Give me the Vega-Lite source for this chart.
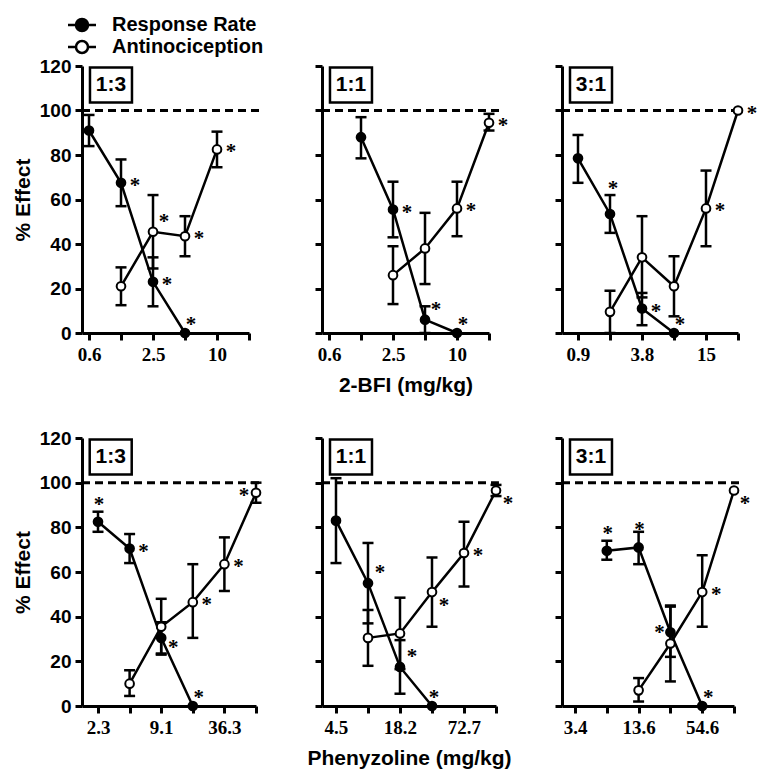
{
"$schema": "https://vega.github.io/schema/vega-lite/v6.json",
"background": "white",
"padding": {"left": 12, "top": 15, "right": 5, "bottom": 5},
"bounds": "flush",
"columns": 3,
"spacing": {"row": 105, "column": 66},
"datasets": {
"panelinfo": [
{"panel": "TL", "ratio": "1:3"}, {"panel": "TM", "ratio": "1:1"}, {"panel": "TR", "ratio": "3:1"},
{"panel": "BL", "ratio": "1:3"}, {"panel": "BM", "ratio": "1:1"}, {"panel": "BR", "ratio": "3:1"}
],
"doses": [
{"panel": "TL", "series": "Response Rate", "dose": 0.625, "mean": 91, "lo": 84, "hi": 98, "sig": null},
{"panel": "TL", "series": "Response Rate", "dose": 1.25, "mean": 67.5, "lo": 57, "hi": 78, "sig": "right"},
{"panel": "TL", "series": "Response Rate", "dose": 2.5, "mean": 23, "lo": 12, "hi": 34, "sig": "right"},
{"panel": "TL", "series": "Response Rate", "dose": 5, "mean": 0, "lo": null, "hi": null, "sig": "zero"},
{"panel": "TL", "series": "Antinociception", "dose": 1.25, "mean": 21, "lo": 12.5, "hi": 29.5, "sig": null},
{"panel": "TL", "series": "Antinociception", "dose": 2.5, "mean": 45.5, "lo": 29, "hi": 62, "sig": "upright"},
{"panel": "TL", "series": "Antinociception", "dose": 5, "mean": 43.5, "lo": 34.5, "hi": 52.5, "sig": "right"},
{"panel": "TL", "series": "Antinociception", "dose": 10, "mean": 82.5, "lo": 74.5, "hi": 90.5, "sig": "right"},
{"panel": "TM", "series": "Response Rate", "dose": 1.25, "mean": 88, "lo": 78.5, "hi": 97, "sig": null},
{"panel": "TM", "series": "Response Rate", "dose": 2.5, "mean": 55.5, "lo": 43, "hi": 68, "sig": "right"},
{"panel": "TM", "series": "Response Rate", "dose": 5, "mean": 6, "lo": 0, "hi": 12, "sig": "upright"},
{"panel": "TM", "series": "Response Rate", "dose": 10, "mean": 0, "lo": null, "hi": null, "sig": "zero"},
{"panel": "TM", "series": "Antinociception", "dose": 2.5, "mean": 26, "lo": 13, "hi": 39, "sig": null},
{"panel": "TM", "series": "Antinociception", "dose": 5, "mean": 38, "lo": 22, "hi": 54, "sig": null},
{"panel": "TM", "series": "Antinociception", "dose": 10, "mean": 56, "lo": 43.5, "hi": 68, "sig": "right"},
{"panel": "TM", "series": "Antinociception", "dose": 20, "mean": 94.5, "lo": 91, "hi": 98.5, "sig": "right"},
{"panel": "TR", "series": "Response Rate", "dose": 0.9375, "mean": 78.5, "lo": 67.5, "hi": 89, "sig": null},
{"panel": "TR", "series": "Response Rate", "dose": 1.875, "mean": 53.5, "lo": 45, "hi": 62, "sig": "top"},
{"panel": "TR", "series": "Response Rate", "dose": 3.75, "mean": 11, "lo": 3.5, "hi": 18, "sig": "right"},
{"panel": "TR", "series": "Response Rate", "dose": 7.5, "mean": 0, "lo": null, "hi": null, "sig": "zero"},
{"panel": "TR", "series": "Antinociception", "dose": 1.875, "mean": 9.5, "lo": 0, "hi": 19, "sig": null},
{"panel": "TR", "series": "Antinociception", "dose": 3.75, "mean": 34, "lo": 16, "hi": 52.5, "sig": null},
{"panel": "TR", "series": "Antinociception", "dose": 7.5, "mean": 21, "lo": 7.5, "hi": 34.5, "sig": null},
{"panel": "TR", "series": "Antinociception", "dose": 15, "mean": 56, "lo": 39, "hi": 73, "sig": "right"},
{"panel": "TR", "series": "Antinociception", "dose": 30, "mean": 100, "lo": null, "hi": null, "sig": "right"},
{"panel": "BL", "series": "Response Rate", "dose": 2.27, "mean": 82.5, "lo": 78, "hi": 87, "sig": "above"},
{"panel": "BL", "series": "Response Rate", "dose": 4.54, "mean": 70.5, "lo": 64, "hi": 77, "sig": "right"},
{"panel": "BL", "series": "Response Rate", "dose": 9.08, "mean": 30.5, "lo": 23.5, "hi": 37.5, "sig": "downright"},
{"panel": "BL", "series": "Response Rate", "dose": 18.16, "mean": 0, "lo": null, "hi": null, "sig": "zero"},
{"panel": "BL", "series": "Antinociception", "dose": 4.54, "mean": 10, "lo": 4.5, "hi": 16, "sig": null},
{"panel": "BL", "series": "Antinociception", "dose": 9.08, "mean": 35.5, "lo": 23, "hi": 48, "sig": null},
{"panel": "BL", "series": "Antinociception", "dose": 18.16, "mean": 46.5, "lo": 30.5, "hi": 63.5, "sig": "right"},
{"panel": "BL", "series": "Antinociception", "dose": 36.32, "mean": 63.5, "lo": 51.5, "hi": 75.5, "sig": "right"},
{"panel": "BL", "series": "Antinociception", "dose": 72.64, "mean": 95.5, "lo": 91, "hi": 100, "sig": "left"},
{"panel": "BM", "series": "Response Rate", "dose": 4.545, "mean": 83, "lo": 64, "hi": 102, "sig": null},
{"panel": "BM", "series": "Response Rate", "dose": 9.09, "mean": 55, "lo": 37, "hi": 73, "sig": "upright"},
{"panel": "BM", "series": "Response Rate", "dose": 18.18, "mean": 17.5, "lo": 5.5, "hi": 29.5, "sig": "upright"},
{"panel": "BM", "series": "Response Rate", "dose": 36.36, "mean": 0, "lo": null, "hi": null, "sig": "zero"},
{"panel": "BM", "series": "Antinociception", "dose": 9.09, "mean": 30.5, "lo": 18, "hi": 43, "sig": null},
{"panel": "BM", "series": "Antinociception", "dose": 18.18, "mean": 32.5, "lo": 16.5, "hi": 48.5, "sig": null},
{"panel": "BM", "series": "Antinociception", "dose": 36.36, "mean": 51, "lo": 35.5, "hi": 66.5, "sig": "downright"},
{"panel": "BM", "series": "Antinociception", "dose": 72.72, "mean": 68.5, "lo": 53.5, "hi": 82.5, "sig": "right"},
{"panel": "BM", "series": "Antinociception", "dose": 145.44, "mean": 96.5, "lo": 94, "hi": 99, "sig": "downright"},
{"panel": "BR", "series": "Response Rate", "dose": 6.82, "mean": 69.5, "lo": 65.5, "hi": 74, "sig": "above"},
{"panel": "BR", "series": "Response Rate", "dose": 13.64, "mean": 71, "lo": 63.5, "hi": 78, "sig": "above"},
{"panel": "BR", "series": "Response Rate", "dose": 27.28, "mean": 33, "lo": 22, "hi": 44.5, "sig": "left"},
{"panel": "BR", "series": "Response Rate", "dose": 54.56, "mean": 0, "lo": null, "hi": null, "sig": "zero"},
{"panel": "BR", "series": "Antinociception", "dose": 13.64, "mean": 7, "lo": 2, "hi": 12.5, "sig": null},
{"panel": "BR", "series": "Antinociception", "dose": 27.28, "mean": 28, "lo": 11, "hi": 45, "sig": null},
{"panel": "BR", "series": "Antinociception", "dose": 54.56, "mean": 51, "lo": 35.5, "hi": 67.5, "sig": "right"},
{"panel": "BR", "series": "Antinociception", "dose": 109.12, "mean": 96.5, "lo": null, "hi": null, "sig": "downright"}
]
},
"concat": [
{"width": 167, "height": 267, "data": {"name": "doses"}, "transform": [{"filter": "datum.panel==='TL'"}, {"lookup": "panel", "from": {"data": {"name": "panelinfo"}, "key": "panel", "fields": ["ratio"]}}],
 "layer": [
  {"transform": [{"aggregate": [{"op": "count", "as": "n"}], "groupby": ["ratio"]}], "mark": {"type": "rule", "strokeDash": [8, 5], "strokeWidth": 3, "color": "black"}, "encoding": {
    "x": {"datum": 0.537, "type": "quantitative", "scale": {"type": "log", "domain": [0.537, 20], "nice": false}, "axis": {"values": [0.625, 1.25, 2.5, 5, 10, 20], "labelExpr": "datum.value==0.625?'0.6':datum.value==2.5?'2.5':datum.value==10?'10':''", "title": null}},
    "x2": {"datum": 25.9},
    "y": {"datum": 100, "type": "quantitative", "scale": {"domain": [0, 120], "nice": false}, "axis": {"values": [0, 20, 40, 60, 80, 100, 120], "title": "% Effect"}}}},
  {"mark": {"type": "rule", "strokeWidth": 2.5, "color": "black"}, "encoding": {"x": {"field": "dose", "type": "quantitative"}, "y": {"field": "lo", "type": "quantitative"}, "y2": {"field": "hi"}}},
  {"mark": {"type": "tick", "orient": "horizontal", "size": 11, "thickness": 2.5, "color": "black", "opacity": 1}, "encoding": {"x": {"field": "dose", "type": "quantitative"}, "y": {"field": "lo", "type": "quantitative"}}},
  {"mark": {"type": "tick", "orient": "horizontal", "size": 11, "thickness": 2.5, "color": "black", "opacity": 1}, "encoding": {"x": {"field": "dose", "type": "quantitative"}, "y": {"field": "hi", "type": "quantitative"}}},
  {"mark": {"type": "line", "color": "black", "strokeWidth": 2.5}, "encoding": {"x": {"field": "dose", "type": "quantitative"}, "y": {"field": "mean", "type": "quantitative"}, "detail": {"field": "series"}}},
  {"mark": {"type": "circle", "size": 75, "stroke": "black", "strokeWidth": 2, "opacity": 1}, "encoding": {"x": {"field": "dose", "type": "quantitative"}, "y": {"field": "mean", "type": "quantitative"}, "fill": {"field": "series", "type": "nominal", "scale": {"domain": ["Response Rate", "Antinociception"], "range": ["black", "white"]}, "legend": {"orient": "none", "legendX": -10, "legendY": -51, "title": null, "symbolType": "M-1.75,0H-0.75M0.75,0H1.75M0.75,0A0.75,0.75,0,1,1,-0.75,0A0.75,0.75,0,1,1,0.75,0Z", "symbolSize": 256, "symbolStrokeColor": "black", "symbolStrokeWidth": 2.5, "symbolOpacity": 1, "labelFont": "Liberation Sans", "labelFontWeight": "bold", "labelFontSize": 20, "labelColor": "black", "labelOffset": 20, "rowPadding": 0}}}},
  {"transform": [{"filter": "datum.sig==='right'"}], "mark": {"type": "text", "text": "*", "font": "Liberation Serif", "fontWeight": "bold", "fontSize": 21, "baseline": "alphabetic", "dx": 14, "dy": 9, "color": "black"}, "encoding": {"x": {"field": "dose", "type": "quantitative"}, "y": {"field": "mean", "type": "quantitative"}}},
  {"transform": [{"filter": "datum.sig==='upright'"}], "mark": {"type": "text", "text": "*", "font": "Liberation Serif", "fontWeight": "bold", "fontSize": 21, "baseline": "alphabetic", "dx": 11, "dy": -4, "color": "black"}, "encoding": {"x": {"field": "dose", "type": "quantitative"}, "y": {"field": "mean", "type": "quantitative"}}},
  {"transform": [{"filter": "datum.sig==='zero'"}], "mark": {"type": "text", "text": "*", "font": "Liberation Serif", "fontWeight": "bold", "fontSize": 21, "baseline": "alphabetic", "dx": 6, "dy": -2, "color": "black"}, "encoding": {"x": {"field": "dose", "type": "quantitative"}, "y": {"field": "mean", "type": "quantitative"}}},
  {"transform": [{"aggregate": [{"op": "count", "as": "n"}], "groupby": ["ratio"]}], "mark": {"type": "point", "shape": "M-1,-0.833H1V0.833H-1Z", "size": 1764, "filled": true, "fill": "white", "stroke": "black", "strokeWidth": 2.5, "opacity": 1}, "encoding": {"x": {"datum": 1.006, "type": "quantitative"}, "y": {"datum": 111.5, "type": "quantitative"}}},
  {"transform": [{"aggregate": [{"op": "count", "as": "n"}], "groupby": ["ratio"]}], "mark": {"type": "text", "font": "Liberation Sans", "fontWeight": "bold", "fontSize": 21, "baseline": "middle", "color": "black"}, "encoding": {"x": {"datum": 1.006, "type": "quantitative"}, "y": {"datum": 111.5, "type": "quantitative"}, "text": {"field": "ratio"}}}
 ]},
{"width": 167, "height": 267, "data": {"name": "doses"}, "transform": [{"filter": "datum.panel==='TM'"}, {"lookup": "panel", "from": {"data": {"name": "panelinfo"}, "key": "panel", "fields": ["ratio"]}}],
 "layer": [
  {"transform": [{"aggregate": [{"op": "count", "as": "n"}], "groupby": ["ratio"]}], "mark": {"type": "rule", "strokeDash": [8, 5], "strokeWidth": 3, "color": "black"}, "encoding": {
    "x": {"datum": 0.537, "type": "quantitative", "scale": {"type": "log", "domain": [0.537, 20], "nice": false}, "axis": {"values": [0.625, 1.25, 2.5, 5, 10, 20], "labelExpr": "datum.value==0.625?'0.6':datum.value==2.5?'2.5':datum.value==10?'10':''", "title": "2-BFI (mg/kg)"}},
    "x2": {"datum": 25.9},
    "y": {"datum": 100, "type": "quantitative", "scale": {"domain": [0, 120], "nice": false}, "axis": {"values": [0, 20, 40, 60, 80, 100, 120], "labels": false, "title": null}}}},
  {"mark": {"type": "rule", "strokeWidth": 2.5, "color": "black"}, "encoding": {"x": {"field": "dose", "type": "quantitative"}, "y": {"field": "lo", "type": "quantitative"}, "y2": {"field": "hi"}}},
  {"mark": {"type": "tick", "orient": "horizontal", "size": 11, "thickness": 2.5, "color": "black", "opacity": 1}, "encoding": {"x": {"field": "dose", "type": "quantitative"}, "y": {"field": "lo", "type": "quantitative"}}},
  {"mark": {"type": "tick", "orient": "horizontal", "size": 11, "thickness": 2.5, "color": "black", "opacity": 1}, "encoding": {"x": {"field": "dose", "type": "quantitative"}, "y": {"field": "hi", "type": "quantitative"}}},
  {"mark": {"type": "line", "color": "black", "strokeWidth": 2.5}, "encoding": {"x": {"field": "dose", "type": "quantitative"}, "y": {"field": "mean", "type": "quantitative"}, "detail": {"field": "series"}}},
  {"mark": {"type": "circle", "size": 75, "stroke": "black", "strokeWidth": 2, "opacity": 1}, "encoding": {"x": {"field": "dose", "type": "quantitative"}, "y": {"field": "mean", "type": "quantitative"}, "fill": {"field": "series", "type": "nominal"}}},
  {"transform": [{"filter": "datum.sig==='right'"}], "mark": {"type": "text", "text": "*", "font": "Liberation Serif", "fontWeight": "bold", "fontSize": 21, "baseline": "alphabetic", "dx": 14, "dy": 9, "color": "black"}, "encoding": {"x": {"field": "dose", "type": "quantitative"}, "y": {"field": "mean", "type": "quantitative"}}},
  {"transform": [{"filter": "datum.sig==='upright'"}], "mark": {"type": "text", "text": "*", "font": "Liberation Serif", "fontWeight": "bold", "fontSize": 21, "baseline": "alphabetic", "dx": 11, "dy": -4, "color": "black"}, "encoding": {"x": {"field": "dose", "type": "quantitative"}, "y": {"field": "mean", "type": "quantitative"}}},
  {"transform": [{"filter": "datum.sig==='zero'"}], "mark": {"type": "text", "text": "*", "font": "Liberation Serif", "fontWeight": "bold", "fontSize": 21, "baseline": "alphabetic", "dx": 6, "dy": -2, "color": "black"}, "encoding": {"x": {"field": "dose", "type": "quantitative"}, "y": {"field": "mean", "type": "quantitative"}}},
  {"transform": [{"aggregate": [{"op": "count", "as": "n"}], "groupby": ["ratio"]}], "mark": {"type": "point", "shape": "M-1,-0.833H1V0.833H-1Z", "size": 1764, "filled": true, "fill": "white", "stroke": "black", "strokeWidth": 2.5, "opacity": 1}, "encoding": {"x": {"datum": 1.006, "type": "quantitative"}, "y": {"datum": 111.5, "type": "quantitative"}}},
  {"transform": [{"aggregate": [{"op": "count", "as": "n"}], "groupby": ["ratio"]}], "mark": {"type": "text", "font": "Liberation Sans", "fontWeight": "bold", "fontSize": 21, "baseline": "middle", "color": "black"}, "encoding": {"x": {"datum": 1.006, "type": "quantitative"}, "y": {"datum": 111.5, "type": "quantitative"}, "text": {"field": "ratio"}}}
 ]},
{"width": 176, "height": 267, "data": {"name": "doses"}, "transform": [{"filter": "datum.panel==='TR'"}, {"lookup": "panel", "from": {"data": {"name": "panelinfo"}, "key": "panel", "fields": ["ratio"]}}],
 "layer": [
  {"transform": [{"aggregate": [{"op": "count", "as": "n"}], "groupby": ["ratio"]}], "mark": {"type": "rule", "strokeDash": [8, 5], "strokeWidth": 3, "color": "black"}, "encoding": {
    "x": {"datum": 0.663, "type": "quantitative", "scale": {"type": "log", "domain": [0.663, 30], "nice": false}, "axis": {"values": [0.9375, 1.875, 3.75, 7.5, 15, 30], "labelExpr": "datum.value==0.9375?'0.9':datum.value==3.75?'3.8':datum.value==15?'15':''", "title": null}},
    "x2": {"datum": 29},
    "y": {"datum": 100, "type": "quantitative", "scale": {"domain": [0, 120], "nice": false}, "axis": {"values": [0, 20, 40, 60, 80, 100, 120], "labels": false, "title": null}}}},
  {"mark": {"type": "rule", "strokeWidth": 2.5, "color": "black"}, "encoding": {"x": {"field": "dose", "type": "quantitative"}, "y": {"field": "lo", "type": "quantitative"}, "y2": {"field": "hi"}}},
  {"mark": {"type": "tick", "orient": "horizontal", "size": 11, "thickness": 2.5, "color": "black", "opacity": 1}, "encoding": {"x": {"field": "dose", "type": "quantitative"}, "y": {"field": "lo", "type": "quantitative"}}},
  {"mark": {"type": "tick", "orient": "horizontal", "size": 11, "thickness": 2.5, "color": "black", "opacity": 1}, "encoding": {"x": {"field": "dose", "type": "quantitative"}, "y": {"field": "hi", "type": "quantitative"}}},
  {"mark": {"type": "line", "color": "black", "strokeWidth": 2.5}, "encoding": {"x": {"field": "dose", "type": "quantitative"}, "y": {"field": "mean", "type": "quantitative"}, "detail": {"field": "series"}}},
  {"mark": {"type": "circle", "size": 75, "stroke": "black", "strokeWidth": 2, "opacity": 1}, "encoding": {"x": {"field": "dose", "type": "quantitative"}, "y": {"field": "mean", "type": "quantitative"}, "fill": {"field": "series", "type": "nominal"}}},
  {"transform": [{"filter": "datum.sig==='right'"}], "mark": {"type": "text", "text": "*", "font": "Liberation Serif", "fontWeight": "bold", "fontSize": 21, "baseline": "alphabetic", "dx": 14, "dy": 9, "color": "black"}, "encoding": {"x": {"field": "dose", "type": "quantitative"}, "y": {"field": "mean", "type": "quantitative"}}},
  {"transform": [{"filter": "datum.sig==='top'"}], "mark": {"type": "text", "text": "*", "font": "Liberation Serif", "fontWeight": "bold", "fontSize": 21, "baseline": "alphabetic", "dx": 3, "dy": -19, "color": "black"}, "encoding": {"x": {"field": "dose", "type": "quantitative"}, "y": {"field": "mean", "type": "quantitative"}}},
  {"transform": [{"filter": "datum.sig==='zero'"}], "mark": {"type": "text", "text": "*", "font": "Liberation Serif", "fontWeight": "bold", "fontSize": 21, "baseline": "alphabetic", "dx": 6, "dy": -2, "color": "black"}, "encoding": {"x": {"field": "dose", "type": "quantitative"}, "y": {"field": "mean", "type": "quantitative"}}},
  {"transform": [{"aggregate": [{"op": "count", "as": "n"}], "groupby": ["ratio"]}], "mark": {"type": "point", "shape": "M-1,-0.833H1V0.833H-1Z", "size": 1764, "filled": true, "fill": "white", "stroke": "black", "strokeWidth": 2.5, "opacity": 1}, "encoding": {"x": {"datum": 1.2425, "type": "quantitative"}, "y": {"datum": 111.5, "type": "quantitative"}}},
  {"transform": [{"aggregate": [{"op": "count", "as": "n"}], "groupby": ["ratio"]}], "mark": {"type": "text", "font": "Liberation Sans", "fontWeight": "bold", "fontSize": 21, "baseline": "middle", "color": "black"}, "encoding": {"x": {"datum": 1.2425, "type": "quantitative"}, "y": {"datum": 111.5, "type": "quantitative"}, "text": {"field": "ratio"}}}
 ]},
{"width": 174, "height": 268, "data": {"name": "doses"}, "transform": [{"filter": "datum.panel==='BL'"}, {"lookup": "panel", "from": {"data": {"name": "panelinfo"}, "key": "panel", "fields": ["ratio"]}}],
 "layer": [
  {"transform": [{"aggregate": [{"op": "count", "as": "n"}], "groupby": ["ratio"]}], "mark": {"type": "rule", "strokeDash": [8, 5], "strokeWidth": 3, "color": "black"}, "encoding": {
    "x": {"datum": 1.598, "type": "quantitative", "scale": {"type": "log", "domain": [1.598, 72.64], "nice": false}, "axis": {"values": [2.27, 4.54, 9.08, 18.16, 36.32, 72.64], "labelExpr": "datum.value==2.27?'2.3':datum.value==9.08?'9.1':datum.value==36.32?'36.3':''", "title": null}},
    "x2": {"datum": 84.7},
    "y": {"datum": 100, "type": "quantitative", "scale": {"domain": [0, 120], "nice": false}, "axis": {"values": [0, 20, 40, 60, 80, 100, 120], "title": "% Effect"}}}},
  {"mark": {"type": "rule", "strokeWidth": 2.5, "color": "black"}, "encoding": {"x": {"field": "dose", "type": "quantitative"}, "y": {"field": "lo", "type": "quantitative"}, "y2": {"field": "hi"}}},
  {"mark": {"type": "tick", "orient": "horizontal", "size": 11, "thickness": 2.5, "color": "black", "opacity": 1}, "encoding": {"x": {"field": "dose", "type": "quantitative"}, "y": {"field": "lo", "type": "quantitative"}}},
  {"mark": {"type": "tick", "orient": "horizontal", "size": 11, "thickness": 2.5, "color": "black", "opacity": 1}, "encoding": {"x": {"field": "dose", "type": "quantitative"}, "y": {"field": "hi", "type": "quantitative"}}},
  {"mark": {"type": "line", "color": "black", "strokeWidth": 2.5}, "encoding": {"x": {"field": "dose", "type": "quantitative"}, "y": {"field": "mean", "type": "quantitative"}, "detail": {"field": "series"}}},
  {"mark": {"type": "circle", "size": 75, "stroke": "black", "strokeWidth": 2, "opacity": 1}, "encoding": {"x": {"field": "dose", "type": "quantitative"}, "y": {"field": "mean", "type": "quantitative"}, "fill": {"field": "series", "type": "nominal"}}},
  {"transform": [{"filter": "datum.sig==='right'"}], "mark": {"type": "text", "text": "*", "font": "Liberation Serif", "fontWeight": "bold", "fontSize": 21, "baseline": "alphabetic", "dx": 14, "dy": 9, "color": "black"}, "encoding": {"x": {"field": "dose", "type": "quantitative"}, "y": {"field": "mean", "type": "quantitative"}}},
  {"transform": [{"filter": "datum.sig==='above'"}], "mark": {"type": "text", "text": "*", "font": "Liberation Serif", "fontWeight": "bold", "fontSize": 21, "baseline": "alphabetic", "dx": 1, "dy": -11, "color": "black"}, "encoding": {"x": {"field": "dose", "type": "quantitative"}, "y": {"field": "mean", "type": "quantitative"}}},
  {"transform": [{"filter": "datum.sig==='left'"}], "mark": {"type": "text", "text": "*", "font": "Liberation Serif", "fontWeight": "bold", "fontSize": 21, "baseline": "alphabetic", "dx": -12, "dy": 9, "color": "black"}, "encoding": {"x": {"field": "dose", "type": "quantitative"}, "y": {"field": "mean", "type": "quantitative"}}},
  {"transform": [{"filter": "datum.sig==='downright'"}], "mark": {"type": "text", "text": "*", "font": "Liberation Serif", "fontWeight": "bold", "fontSize": 21, "baseline": "alphabetic", "dx": 12, "dy": 16, "color": "black"}, "encoding": {"x": {"field": "dose", "type": "quantitative"}, "y": {"field": "mean", "type": "quantitative"}}},
  {"transform": [{"filter": "datum.sig==='zero'"}], "mark": {"type": "text", "text": "*", "font": "Liberation Serif", "fontWeight": "bold", "fontSize": 21, "baseline": "alphabetic", "dx": 6, "dy": -2, "color": "black"}, "encoding": {"x": {"field": "dose", "type": "quantitative"}, "y": {"field": "mean", "type": "quantitative"}}},
  {"transform": [{"aggregate": [{"op": "count", "as": "n"}], "groupby": ["ratio"]}], "mark": {"type": "point", "shape": "M-1,-0.833H1V0.833H-1Z", "size": 1764, "filled": true, "fill": "white", "stroke": "black", "strokeWidth": 2.5, "opacity": 1}, "encoding": {"x": {"datum": 3.0, "type": "quantitative"}, "y": {"datum": 111.5, "type": "quantitative"}}},
  {"transform": [{"aggregate": [{"op": "count", "as": "n"}], "groupby": ["ratio"]}], "mark": {"type": "text", "font": "Liberation Sans", "fontWeight": "bold", "fontSize": 21, "baseline": "middle", "color": "black"}, "encoding": {"x": {"datum": 3.0, "type": "quantitative"}, "y": {"datum": 111.5, "type": "quantitative"}, "text": {"field": "ratio"}}}
 ]},
{"width": 174, "height": 268, "data": {"name": "doses"}, "transform": [{"filter": "datum.panel==='BM'"}, {"lookup": "panel", "from": {"data": {"name": "panelinfo"}, "key": "panel", "fields": ["ratio"]}}],
 "layer": [
  {"transform": [{"aggregate": [{"op": "count", "as": "n"}], "groupby": ["ratio"]}], "mark": {"type": "rule", "strokeDash": [8, 5], "strokeWidth": 3, "color": "black"}, "encoding": {
    "x": {"datum": 3.357, "type": "quantitative", "scale": {"type": "log", "domain": [3.357, 145.44], "nice": false}, "axis": {"values": [4.545, 9.09, 18.18, 36.36, 72.72, 145.44], "labelExpr": "datum.value==4.545?'4.5':datum.value==18.18?'18.2':datum.value==72.72?'72.7':''", "title": "Phenyzoline (mg/kg)"}},
    "x2": {"datum": 155},
    "y": {"datum": 100, "type": "quantitative", "scale": {"domain": [0, 120], "nice": false}, "axis": {"values": [0, 20, 40, 60, 80, 100, 120], "labels": false, "title": null}}}},
  {"mark": {"type": "rule", "strokeWidth": 2.5, "color": "black"}, "encoding": {"x": {"field": "dose", "type": "quantitative"}, "y": {"field": "lo", "type": "quantitative"}, "y2": {"field": "hi"}}},
  {"mark": {"type": "tick", "orient": "horizontal", "size": 11, "thickness": 2.5, "color": "black", "opacity": 1}, "encoding": {"x": {"field": "dose", "type": "quantitative"}, "y": {"field": "lo", "type": "quantitative"}}},
  {"mark": {"type": "tick", "orient": "horizontal", "size": 11, "thickness": 2.5, "color": "black", "opacity": 1}, "encoding": {"x": {"field": "dose", "type": "quantitative"}, "y": {"field": "hi", "type": "quantitative"}}},
  {"mark": {"type": "line", "color": "black", "strokeWidth": 2.5}, "encoding": {"x": {"field": "dose", "type": "quantitative"}, "y": {"field": "mean", "type": "quantitative"}, "detail": {"field": "series"}}},
  {"mark": {"type": "circle", "size": 75, "stroke": "black", "strokeWidth": 2, "opacity": 1}, "encoding": {"x": {"field": "dose", "type": "quantitative"}, "y": {"field": "mean", "type": "quantitative"}, "fill": {"field": "series", "type": "nominal"}}},
  {"transform": [{"filter": "datum.sig==='right'"}], "mark": {"type": "text", "text": "*", "font": "Liberation Serif", "fontWeight": "bold", "fontSize": 21, "baseline": "alphabetic", "dx": 14, "dy": 9, "color": "black"}, "encoding": {"x": {"field": "dose", "type": "quantitative"}, "y": {"field": "mean", "type": "quantitative"}}},
  {"transform": [{"filter": "datum.sig==='upright'"}], "mark": {"type": "text", "text": "*", "font": "Liberation Serif", "fontWeight": "bold", "fontSize": 21, "baseline": "alphabetic", "dx": 12, "dy": -4, "color": "black"}, "encoding": {"x": {"field": "dose", "type": "quantitative"}, "y": {"field": "mean", "type": "quantitative"}}},
  {"transform": [{"filter": "datum.sig==='downright'"}], "mark": {"type": "text", "text": "*", "font": "Liberation Serif", "fontWeight": "bold", "fontSize": 21, "baseline": "alphabetic", "dx": 12, "dy": 20, "color": "black"}, "encoding": {"x": {"field": "dose", "type": "quantitative"}, "y": {"field": "mean", "type": "quantitative"}}},
  {"transform": [{"filter": "datum.sig==='zero'"}], "mark": {"type": "text", "text": "*", "font": "Liberation Serif", "fontWeight": "bold", "fontSize": 21, "baseline": "alphabetic", "dx": 2, "dy": -2, "color": "black"}, "encoding": {"x": {"field": "dose", "type": "quantitative"}, "y": {"field": "mean", "type": "quantitative"}}},
  {"transform": [{"aggregate": [{"op": "count", "as": "n"}], "groupby": ["ratio"]}], "mark": {"type": "point", "shape": "M-1,-0.833H1V0.833H-1Z", "size": 1764, "filled": true, "fill": "white", "stroke": "black", "strokeWidth": 2.5, "opacity": 1}, "encoding": {"x": {"datum": 6.29, "type": "quantitative"}, "y": {"datum": 111.5, "type": "quantitative"}}},
  {"transform": [{"aggregate": [{"op": "count", "as": "n"}], "groupby": ["ratio"]}], "mark": {"type": "text", "font": "Liberation Sans", "fontWeight": "bold", "fontSize": 21, "baseline": "middle", "color": "black"}, "encoding": {"x": {"datum": 6.29, "type": "quantitative"}, "y": {"datum": 111.5, "type": "quantitative"}, "text": {"field": "ratio"}}}
 ]},
{"width": 172, "height": 268, "data": {"name": "doses"}, "transform": [{"filter": "datum.panel==='BR'"}, {"lookup": "panel", "from": {"data": {"name": "panelinfo"}, "key": "panel", "fields": ["ratio"]}}],
 "layer": [
  {"transform": [{"aggregate": [{"op": "count", "as": "n"}], "groupby": ["ratio"]}], "mark": {"type": "rule", "strokeDash": [8, 5], "strokeWidth": 3, "color": "black"}, "encoding": {
    "x": {"datum": 2.568, "type": "quantitative", "scale": {"type": "log", "domain": [2.568, 109.12], "nice": false}, "axis": {"values": [3.41, 6.82, 13.64, 27.28, 54.56, 109.12], "labelExpr": "datum.value==3.41?'3.4':datum.value==13.64?'13.6':datum.value==54.56?'54.6':''", "title": null}},
    "x2": {"datum": 127},
    "y": {"datum": 100, "type": "quantitative", "scale": {"domain": [0, 120], "nice": false}, "axis": {"values": [0, 20, 40, 60, 80, 100, 120], "labels": false, "title": null}}}},
  {"mark": {"type": "rule", "strokeWidth": 2.5, "color": "black"}, "encoding": {"x": {"field": "dose", "type": "quantitative"}, "y": {"field": "lo", "type": "quantitative"}, "y2": {"field": "hi"}}},
  {"mark": {"type": "tick", "orient": "horizontal", "size": 11, "thickness": 2.5, "color": "black", "opacity": 1}, "encoding": {"x": {"field": "dose", "type": "quantitative"}, "y": {"field": "lo", "type": "quantitative"}}},
  {"mark": {"type": "tick", "orient": "horizontal", "size": 11, "thickness": 2.5, "color": "black", "opacity": 1}, "encoding": {"x": {"field": "dose", "type": "quantitative"}, "y": {"field": "hi", "type": "quantitative"}}},
  {"mark": {"type": "line", "color": "black", "strokeWidth": 2.5}, "encoding": {"x": {"field": "dose", "type": "quantitative"}, "y": {"field": "mean", "type": "quantitative"}, "detail": {"field": "series"}}},
  {"mark": {"type": "circle", "size": 75, "stroke": "black", "strokeWidth": 2, "opacity": 1}, "encoding": {"x": {"field": "dose", "type": "quantitative"}, "y": {"field": "mean", "type": "quantitative"}, "fill": {"field": "series", "type": "nominal"}}},
  {"transform": [{"filter": "datum.sig==='right'"}], "mark": {"type": "text", "text": "*", "font": "Liberation Serif", "fontWeight": "bold", "fontSize": 21, "baseline": "alphabetic", "dx": 14, "dy": 9, "color": "black"}, "encoding": {"x": {"field": "dose", "type": "quantitative"}, "y": {"field": "mean", "type": "quantitative"}}},
  {"transform": [{"filter": "datum.sig==='above'"}], "mark": {"type": "text", "text": "*", "font": "Liberation Serif", "fontWeight": "bold", "fontSize": 21, "baseline": "alphabetic", "dx": 1, "dy": -11, "color": "black"}, "encoding": {"x": {"field": "dose", "type": "quantitative"}, "y": {"field": "mean", "type": "quantitative"}}},
  {"transform": [{"filter": "datum.sig==='left'"}], "mark": {"type": "text", "text": "*", "font": "Liberation Serif", "fontWeight": "bold", "fontSize": 21, "baseline": "alphabetic", "dx": -11, "dy": 7, "color": "black"}, "encoding": {"x": {"field": "dose", "type": "quantitative"}, "y": {"field": "mean", "type": "quantitative"}}},
  {"transform": [{"filter": "datum.sig==='downright'"}], "mark": {"type": "text", "text": "*", "font": "Liberation Serif", "fontWeight": "bold", "fontSize": 21, "baseline": "alphabetic", "dx": 11, "dy": 20, "color": "black"}, "encoding": {"x": {"field": "dose", "type": "quantitative"}, "y": {"field": "mean", "type": "quantitative"}}},
  {"transform": [{"filter": "datum.sig==='zero'"}], "mark": {"type": "text", "text": "*", "font": "Liberation Serif", "fontWeight": "bold", "fontSize": 21, "baseline": "alphabetic", "dx": 6, "dy": -2, "color": "black"}, "encoding": {"x": {"field": "dose", "type": "quantitative"}, "y": {"field": "mean", "type": "quantitative"}}},
  {"transform": [{"aggregate": [{"op": "count", "as": "n"}], "groupby": ["ratio"]}], "mark": {"type": "point", "shape": "M-1,-0.833H1V0.833H-1Z", "size": 1764, "filled": true, "fill": "white", "stroke": "black", "strokeWidth": 2.5, "opacity": 1}, "encoding": {"x": {"datum": 4.83, "type": "quantitative"}, "y": {"datum": 111.5, "type": "quantitative"}}},
  {"transform": [{"aggregate": [{"op": "count", "as": "n"}], "groupby": ["ratio"]}], "mark": {"type": "text", "font": "Liberation Sans", "fontWeight": "bold", "fontSize": 21, "baseline": "middle", "color": "black"}, "encoding": {"x": {"datum": 4.83, "type": "quantitative"}, "y": {"datum": 111.5, "type": "quantitative"}, "text": {"field": "ratio"}}}
 ]}
],
"resolve": {"scale": {"x": "independent", "y": "independent"}},
"config": {
 "view": {"stroke": null},
 "axis": {"domainColor": "black", "domainWidth": 3, "tickColor": "black", "tickWidth": 3, "tickSize": 7, "grid": false, "labelColor": "black", "titleColor": "black"},
 "axisX": {"labelFont": "Liberation Serif", "labelFontWeight": "bold", "labelFontSize": 19, "labelPadding": 5, "labelFlush": false, "labelOverlap": false, "titleFont": "Liberation Sans", "titleFontSize": 21, "titleFontWeight": "bold", "titlePadding": 10},
 "axisY": {"labelFont": "Liberation Sans", "labelFontWeight": "bold", "labelFontSize": 19, "labelPadding": 4, "labelFlush": false, "titleFont": "Liberation Sans", "titleFontSize": 21, "titleFontWeight": "bold", "titlePadding": 6}
}
}
